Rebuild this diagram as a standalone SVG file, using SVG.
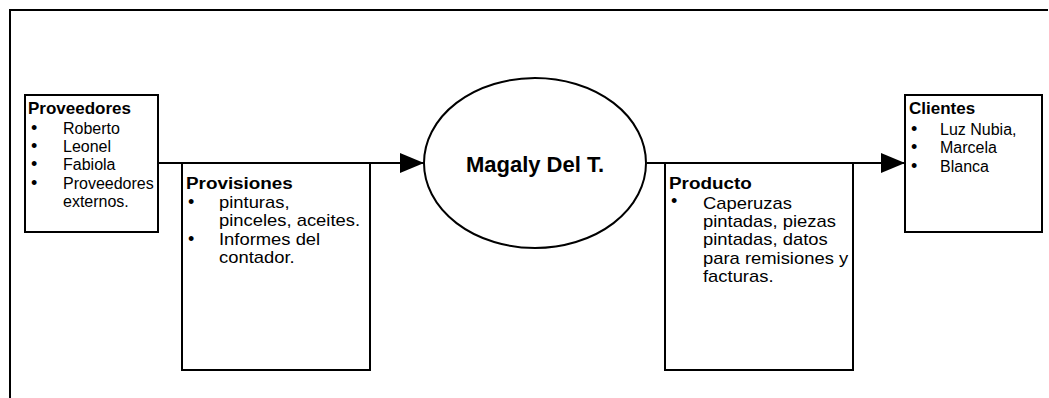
<svg xmlns="http://www.w3.org/2000/svg" width="1049" height="398" viewBox="0 0 1049 398">
  <style>
    .box { fill: #ffffff; stroke: #000000; stroke-width: 2; }
    .frame { fill: none; stroke: #000000; stroke-width: 2; }
    .wire { fill: none; stroke: #000000; stroke-width: 2; }
    .title { font-family: "Liberation Sans", Arial, sans-serif; font-weight: bold; font-size: 17px; fill: #000000; }
    .item { font-family: "Liberation Sans", Arial, sans-serif; font-size: 16px; fill: #000000; }
    .dot { font-family: "Liberation Sans", Arial, sans-serif; font-size: 18px; fill: #000000; }
    .main { font-family: "Liberation Sans", Arial, sans-serif; font-weight: bold; font-size: 22px; fill: #000000; }
  </style>
  <defs>
    <marker id="arrow" markerUnits="userSpaceOnUse" markerWidth="24" markerHeight="20" refX="24" refY="10" orient="auto">
      <path d="M0,0 L24,10 L0,20 Z" fill="#000000"/>
    </marker>
  </defs>

  <!-- page frame: top and left edges only -->
  <path class="frame" d="M10,398 L10,10 L1048,10"/>

  <!-- connectors -->
  <g id="connectors">
    <line class="wire" x1="158" y1="163" x2="424" y2="163" marker-end="url(#arrow)"/>
    <line class="wire" x1="647" y1="163" x2="905" y2="163" marker-end="url(#arrow)"/>
  </g>

  <g id="proveedores">
    <rect class="box" x="25" y="95" width="133" height="137"/>
    <text class="title" x="28" y="114">Proveedores</text>
    <text class="dot" x="31" y="134">•</text>
    <text class="item" x="63" y="134">Roberto</text>
    <text class="dot" x="31" y="152">•</text>
    <text class="item" x="63" y="152">Leonel</text>
    <text class="dot" x="31" y="170">•</text>
    <text class="item" x="63" y="170">Fabiola</text>
    <text class="dot" x="31" y="189">•</text>
    <text class="item" x="63" y="189">Proveedores</text>
    <text class="item" x="63" y="207">externos.</text>
  </g>

  <g id="provisiones">
    <rect class="box" x="182" y="163" width="188" height="207"/>
    <text class="title" x="186" y="189" transform="translate(186,0) scale(1.11,1) translate(-186,0)">Provisiones</text>
    <text class="dot" x="188" y="208">•</text>
    <text class="dot" x="188" y="245">•</text>
    <g transform="translate(219,0) scale(1.15,1) translate(-219,0)">
      <text class="item" x="219" y="208">pinturas,</text>
      <text class="item" x="219" y="226">pinceles, aceites.</text>
      <text class="item" x="219" y="245">Informes del</text>
      <text class="item" x="219" y="263">contador.</text>
    </g>
  </g>

  <g id="magaly">
    <ellipse class="box" cx="535" cy="163" rx="111" ry="85"/>
    <text class="main" x="535" y="172" text-anchor="middle">Magaly Del T.</text>
  </g>

  <g id="producto">
    <rect class="box" x="665" y="163" width="188" height="207"/>
    <text class="title" x="669" y="189" transform="translate(669,0) scale(1.11,1) translate(-669,0)">Producto</text>
    <text class="dot" x="671" y="207">•</text>
    <g transform="translate(703,0) scale(1.15,1) translate(-703,0)">
      <text class="item" x="703" y="209">Caperuzas</text>
      <text class="item" x="703" y="227">pintadas, piezas</text>
      <text class="item" x="703" y="245">pintadas, datos</text>
      <text class="item" x="703" y="264">para remisiones y</text>
      <text class="item" x="703" y="282">facturas.</text>
    </g>
  </g>

  <g id="clientes">
    <rect class="box" x="905" y="95" width="137" height="137"/>
    <text class="title" x="909" y="114">Clientes</text>
    <text class="dot" x="911" y="135">•</text>
    <text class="item" x="940" y="135">Luz Nubia,</text>
    <text class="dot" x="911" y="153">•</text>
    <text class="item" x="940" y="153">Marcela</text>
    <text class="dot" x="911" y="172">•</text>
    <text class="item" x="940" y="172">Blanca</text>
  </g>
</svg>
